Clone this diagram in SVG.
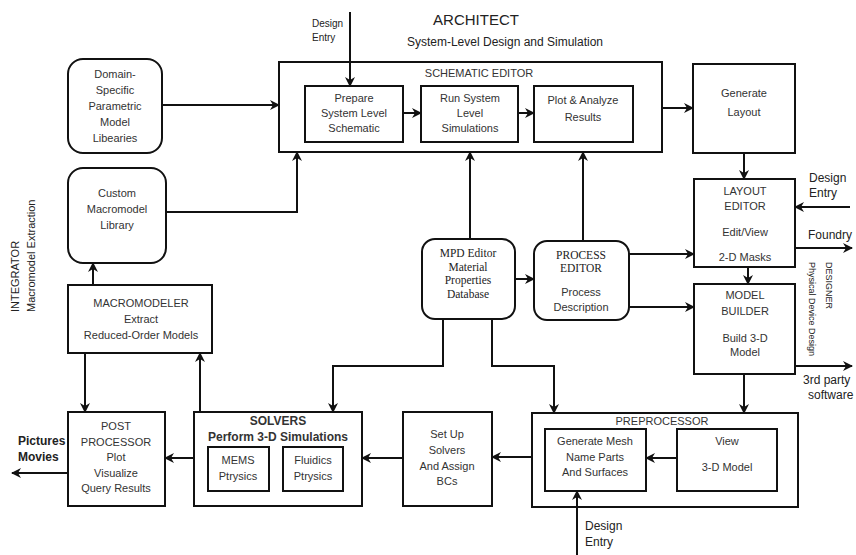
<svg xmlns="http://www.w3.org/2000/svg" width="856" height="555" viewBox="0 0 856 555">
<defs>
<marker id="ah" viewBox="0 0 10 10" refX="9" refY="5" markerWidth="5" markerHeight="5" orient="auto" markerUnits="strokeWidth">
<path d="M0,0 L10,5 L0,10 L3,5 z" fill="#111"/>
</marker>
<style>
.b{fill:#fff;stroke:#111;stroke-width:2}
.t{font-family:"Liberation Sans",Arial,sans-serif;font-size:11px;fill:#333;text-anchor:middle}
.s{font-family:"Liberation Serif","Times New Roman",serif;font-size:11.5px;fill:#222;text-anchor:middle}
.l{font-family:"Liberation Sans",Arial,sans-serif;font-size:12px;fill:#222}
.bd{font-weight:bold}
.c{fill:none;stroke:#111;stroke-width:2;marker-end:url(#ah)}
</style>
</defs>
<rect width="856" height="555" fill="#fff"/>

<g id="title">
<text x="476" y="25" class="l" style="font-size:15px;text-anchor:middle">ARCHITECT</text>
<text x="505" y="46" class="l" style="font-size:12px;text-anchor:middle">System-Level Design and Simulation</text>
</g>

<g id="side-labels">
<text transform="translate(19,312) rotate(-90)" class="l" style="font-size:11px">INTEGRATOR</text>
<text transform="translate(35,312) rotate(-90)" class="l" style="font-size:11px">Macromodel Extraction</text>
<text transform="translate(826,262) rotate(90)" class="l" style="font-size:9px">DESIGNER</text>
<text transform="translate(809,262) rotate(90)" class="l" style="font-size:9px">Physical Device Design</text>
</g>

<g id="io-labels">
<text x="312" y="27" class="l" style="font-size:10px">Design</text>
<text x="312" y="41" class="l" style="font-size:10px">Entry</text>
<text x="809" y="182" class="l">Design</text>
<text x="809" y="197" class="l">Entry</text>
<text x="808" y="239" class="l">Foundry</text>
<text x="803" y="384" class="l">3rd party</text>
<text x="808" y="399" class="l">software</text>
<text x="18" y="445" class="l bd">Pictures</text>
<text x="18" y="461" class="l bd">Movies</text>
<text x="585" y="530" class="l">Design</text>
<text x="585" y="546" class="l">Entry</text>
</g>

<g id="domain">
<rect x="68" y="59" width="94" height="94" rx="15" class="b"/>
<text class="t"><tspan x="115" y="78">Domain-</tspan><tspan x="115" y="94">Specific</tspan><tspan x="115" y="110">Parametric</tspan><tspan x="115" y="126">Model</tspan><tspan x="115" y="142">Libearies</tspan></text>
</g>

<g id="custom">
<rect x="68" y="168" width="98" height="95" rx="15" class="b"/>
<text class="t"><tspan x="117" y="197">Custom</tspan><tspan x="117" y="213">Macromodel</tspan><tspan x="117" y="229">Library</tspan></text>
</g>

<g id="macromodeler">
<rect x="68" y="285" width="144" height="68" class="b"/>
<text class="t"><tspan x="141" y="307">MACROMODELER</tspan><tspan x="141" y="323">Extract</tspan><tspan x="141" y="339">Reduced-Order Models</tspan></text>
</g>

<g id="schematic-editor">
<rect x="279" y="62" width="383" height="90" class="b"/>
<text x="479" y="77" class="t">SCHEMATIC EDITOR</text>
</g>
<g id="prepare">
<rect x="305" y="86" width="98" height="56" class="b"/>
<text class="t"><tspan x="354" y="102">Prepare</tspan><tspan x="354" y="117">System Level</tspan><tspan x="354" y="132">Schematic</tspan></text>
</g>
<g id="run">
<rect x="421" y="86" width="97" height="56" class="b"/>
<text class="t"><tspan x="470" y="102">Run System</tspan><tspan x="470" y="117">Level</tspan><tspan x="470" y="132">Simulations</tspan></text>
</g>
<g id="plot">
<rect x="534" y="86" width="99" height="56" class="b"/>
<text class="t"><tspan x="583" y="104">Plot &amp; Analyze</tspan><tspan x="583" y="121">Results</tspan></text>
</g>

<g id="generate-layout">
<rect x="693" y="64" width="102" height="89" class="b"/>
<text class="t"><tspan x="744" y="97">Generate</tspan><tspan x="744" y="116">Layout</tspan></text>
</g>

<g id="layout-editor">
<rect x="694" y="179" width="101" height="88" class="b"/>
<text class="t"><tspan x="745" y="195">LAYOUT</tspan><tspan x="745" y="210">EDITOR</tspan><tspan x="745" y="236">Edit/View</tspan><tspan x="745" y="261">2-D Masks</tspan></text>
</g>

<g id="model-builder">
<rect x="694" y="284" width="101" height="90" class="b"/>
<text class="t"><tspan x="745" y="299">MODEL</tspan><tspan x="745" y="315">BUILDER</tspan><tspan x="745" y="342">Build 3-D</tspan><tspan x="745" y="356">Model</tspan></text>
</g>

<g id="mpd-editor">
<rect x="422" y="239" width="93" height="80" rx="13" class="b"/>
<text class="s"><tspan x="468" y="257">MPD Editor</tspan><tspan x="468" y="270.5">Material</tspan><tspan x="468" y="284">Properties</tspan><tspan x="468" y="298">Database</tspan></text>
</g>

<g id="process-editor">
<rect x="534" y="241" width="95" height="79" rx="13" class="b"/>
<text class="s"><tspan x="581" y="259">PROCESS</tspan><tspan x="581" y="272">EDITOR</tspan></text>
<text class="t"><tspan x="581" y="296">Process</tspan><tspan x="581" y="311">Description</tspan></text>
</g>

<g id="post-processor">
<rect x="68" y="412" width="97" height="94" class="b"/>
<text class="t"><tspan x="116" y="430">POST</tspan><tspan x="116" y="446">PROCESSOR</tspan><tspan x="116" y="461">Plot</tspan><tspan x="116" y="477">Visualize</tspan><tspan x="116" y="492">Query Results</tspan></text>
</g>

<g id="solvers">
<rect x="194" y="412" width="168" height="94" class="b"/>
<text class="t bd" style="font-size:12px"><tspan x="278" y="425">SOLVERS</tspan><tspan x="278" y="441">Perform 3-D Simulations</tspan></text>
</g>
<g id="mems">
<rect x="208" y="447" width="61" height="44" class="b"/>
<text class="t"><tspan x="238" y="464">MEMS</tspan><tspan x="238" y="480">Ptrysics</tspan></text>
</g>
<g id="fluidics">
<rect x="283" y="447" width="60" height="44" class="b"/>
<text class="t"><tspan x="313" y="464">Fluidics</tspan><tspan x="313" y="480">Ptrysics</tspan></text>
</g>

<g id="setup">
<rect x="403" y="412" width="89" height="94" class="b"/>
<text class="t"><tspan x="447" y="438">Set Up</tspan><tspan x="447" y="454">Solvers</tspan><tspan x="447" y="470">And Assign</tspan><tspan x="447" y="485">BCs</tspan></text>
</g>

<g id="preprocessor">
<rect x="532" y="413" width="266" height="94" class="b"/>
<text x="662" y="425" class="t">PREPROCESSOR</text>
</g>
<g id="generate-mesh">
<rect x="545" y="429" width="101" height="62" class="b"/>
<text class="t"><tspan x="595" y="445">Generate Mesh</tspan><tspan x="595" y="461">Name Parts</tspan><tspan x="595" y="476">And Surfaces</tspan></text>
</g>
<g id="view">
<rect x="677" y="429" width="100" height="62" class="b"/>
<text class="t"><tspan x="727" y="445">View</tspan><tspan x="727" y="471">3-D Model</tspan></text>
</g>

<g id="connectors">
<path class="c" d="M350,12 V86"/>
<path class="c" d="M162,105 H279"/>
<path class="c" d="M166,212 H297 V152"/>
<path class="c" d="M403,113 H421"/>
<path class="c" d="M518,113 H534"/>
<path class="c" d="M662,108 H693"/>
<path class="c" d="M744,153 V179"/>
<path class="c" d="M850,207 H795"/>
<path class="c" d="M795,248 H852"/>
<path class="c" d="M748,267 V284"/>
<path class="c" d="M795,366 H852"/>
<path class="c" d="M744,374 V413"/>
<path class="c" d="M470,239 V152"/>
<path class="c" d="M583,241 V152"/>
<path class="c" d="M515,279 H534"/>
<path class="c" d="M629,254 H694"/>
<path class="c" d="M629,307 H694"/>
<path class="c" d="M443,319 V366 H333 V412"/>
<path class="c" d="M492,319 V366 H554 V413"/>
<path class="c" d="M677,458 H646"/>
<path class="c" d="M532,457 H492"/>
<path class="c" d="M403,458 H362"/>
<path class="c" d="M194,458 H165"/>
<path class="c" d="M68,473 H12"/>
<path class="c" d="M85,353 V412"/>
<path class="c" d="M200,412 V353"/>
<path class="c" d="M93,285 V263"/>
<path class="c" d="M577,555 V491"/>
</g>
</svg>
